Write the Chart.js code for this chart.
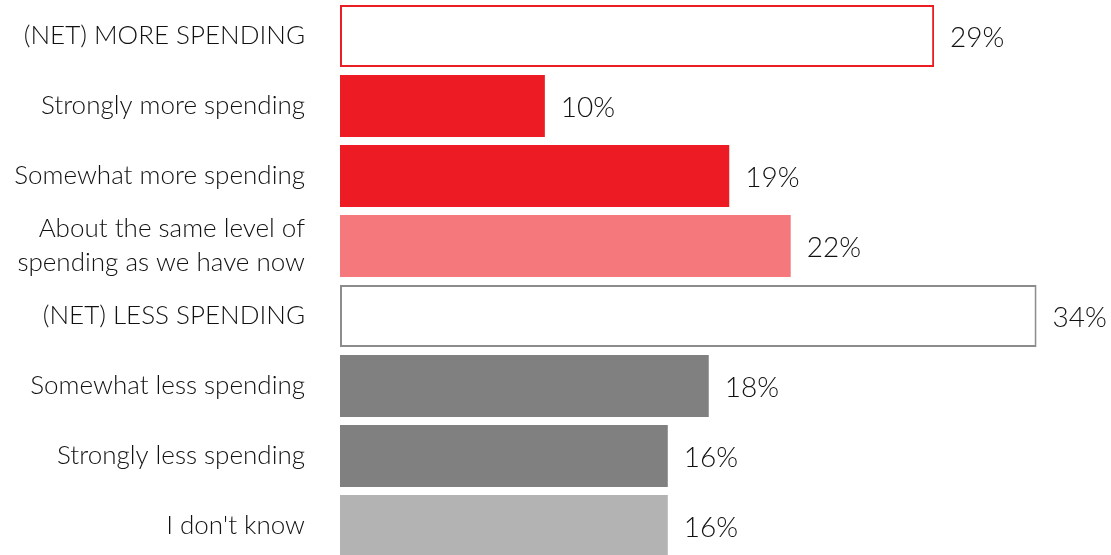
<!DOCTYPE html>
<html>
<head>
<meta charset="utf-8">
<script src="https://cdn.jsdelivr.net/npm/chart.js@4/dist/chart.umd.min.js"></script>
<style>
    html, body { margin: 0; padding: 0; background: #fff; overflow: hidden; }
</style>
</head>
<body>
<canvas id="spendChart" width="1111" height="561"></canvas>
<script>
// Survey answers, top to bottom
const categories = [
    '(NET) MORE SPENDING',
    'Strongly more spending',
    'Somewhat more spending',
    ['About the same level of', 'spending as we have now'],
    '(NET) LESS SPENDING',
    'Somewhat less spending',
    'Strongly less spending',
    "I don't know"
];
const shares = [29, 10, 19, 22, 34, 18, 16, 16];

// fill / outline per row (net rows are outlined boxes)
const fills = ['#ffffff', '#ed1c24', '#ed1c24', '#f4787c', '#ffffff', '#808080', '#808080', '#b3b3b3'];
const outlines = ['#ed1c24', '#ed1c24', '#ed1c24', '#f4787c', '#8c8c8c', '#808080', '#808080', '#b3b3b3'];
const outlineWidths = [2, 0, 0, 0, 2, 0, 0, 0];

const FONT = 'Lato, "Open Sans", sans-serif';

// percentage text at the end of each bar
const valueLabels = {
    id: 'valueLabels',
    afterDatasetsDraw(chart) {
        const ctx = chart.ctx;
        const meta = chart.getDatasetMeta(0);
        ctx.save();
        ctx.font = '300 28px ' + FONT;
        ctx.fillStyle = '#111';
        ctx.textAlign = 'left';
        ctx.textBaseline = 'middle';
        meta.data.forEach((bar, i) => {
            ctx.fillText(shares[i] + '%', bar.x + 16, bar.y + 2);
        });
        ctx.restore();
    }
};

const ctx = document.getElementById('spendChart').getContext('2d');
new Chart(ctx, {
    type: 'bar',
    data: {
        labels: categories,
        datasets: [{
            data: shares,
            backgroundColor: fills,
            borderColor: outlines,
            borderWidth: outlineWidths,
            borderSkipped: false,
            categoryPercentage: 1,
            barPercentage: 0.886
        }]
    },
    options: {
        indexAxis: 'y',
        responsive: false,
        animation: false,
        layout: { padding: { top: 1, right: 13, bottom: 0, left: 0 } },
        scales: {
            x: {
                display: false,
                min: 0,
                max: 37
            },
            y: {
                border: { display: false },
                grid: { display: false, drawTicks: false },
                ticks: {
                    autoSkip: false,
                    color: '#111',
                    padding: 35,
                    font: { family: FONT, size: 26, weight: 300, lineHeight: 1.3 }
                },
                afterFit(scale) {
                    // fixed label column; no extra vertical padding from tick padding
                    scale.width = 340;
                    scale.paddingTop = 0;
                    scale.paddingBottom = 0;
                }
            }
        },
        plugins: {
            legend: { display: false },
            tooltip: { enabled: false }
        }
    },
    plugins: [valueLabels]
});
</script>
</body>
</html>
